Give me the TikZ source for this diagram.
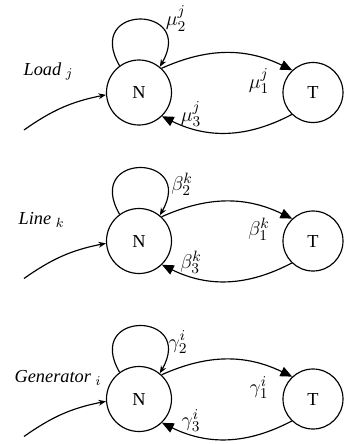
\documentclass[tikz,border=0pt]{standalone}
\usepackage{fontspec}
\setmainfont{Liberation Serif}
\usetikzlibrary{arrows.meta}

\tikzset{
  statenode/.style={circle, draw, inner sep=0pt},
  bigtip/.style={-{Triangle[length=7pt,width=6pt]}},
  smalltip/.style={-{Stealth[length=4.5pt,width=3.5pt]}},
  rate/.style={inner sep=1pt, font=\fontsize{13}{15}\selectfont}
}

\begin{document}
\begin{tikzpicture}[x=0.6pt, y=0.6pt, line width=0.7pt, font=\fontsize{11}{13}\selectfont]
  \useasboundingbox (0,0) rectangle (344,-444);

  % one panel per component: load, line, generator
  \foreach \i/\cy/\txt/\tx/\gr/\s/\lx/\ly in {1/92.5/Load/23/\mu/j/176/74,
                                            2/241/Line/18/\beta/k/182/57,
                                            3/399/Generator/14/\gamma/i/178/57} {
    \begin{scope}[shift={(0,-\cy)}]
      % states
      \node[statenode, minimum size=39pt] (N\i) at (139,0) {N};
      \node[statenode, minimum size=36pt] (T\i) at (313,0) {T};

      % self loop on N
      \draw[smalltip] (N\i.126) .. controls +(120:72) and +(60:72) .. (N\i.51);

      % transitions between N and T
      \draw[bigtip] (N\i.47) to[bend left=25] (T\i.133);
      \draw[bigtip] (T\i.226) to[bend left=27] (N\i.314);

      % incoming arc
      \coordinate (in\i) at (24,-37.5);
      \draw[smalltip] (in\i) to[bend left=12] (N\i.184);

      % labels
      \node[anchor=west, inner sep=0pt] (name\i) at (\tx,21) {\textit{\txt} $_{\s}$};
      \node[rate] (a\i) at (\lx,\ly) {$\gr_2^{\s}$};
      \node[rate] (b\i) at (259,11.5) {$\gr_1^{\s}$};
      \node[rate] (c\i) at (191,-21.5) {$\gr_3^{\s}$};
    \end{scope}
  }
\end{tikzpicture}
\end{document}
